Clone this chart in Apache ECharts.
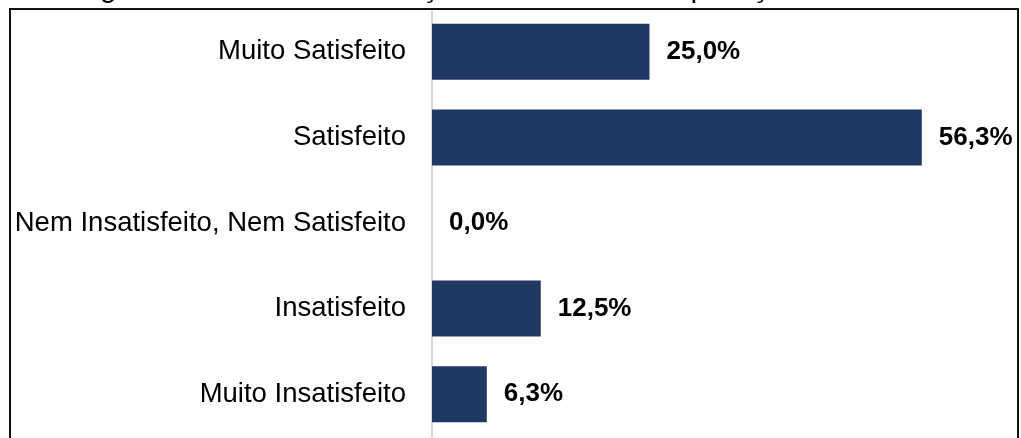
<!DOCTYPE html>
<html>
<head>
<meta charset="utf-8">
<script src="https://cdn.jsdelivr.net/npm/echarts@6/dist/echarts.min.js"></script>
<style>html,body{margin:0;padding:0;background:#fff}#c{width:1021px;height:438px}</style>
</head>
<body>
<div id="c"></div>
<script>
const categories = ['Muito Satisfeito', 'Satisfeito', 'Nem Insatisfeito, Nem Satisfeito', 'Insatisfeito', 'Muito Insatisfeito'];
const values = [25.0, 56.3, 0.0, 12.5, 6.3];
const titleText = 'Figura 9 – Grau de satisfação dos alunos na aplicação';

const FONT = 'Arial, "Liberation Sans", sans-serif';
const chart = echarts.init(document.getElementById('c'), null, {renderer: 'canvas'});
chart.setOption({
  animation: false,
  backgroundColor: '#ffffff',
  grid: {left: 432, top: 9, width: 522, height: 428, containLabel: false},
  xAxis: {
    type: 'value', min: 0, max: 60, show: false
  },
  yAxis: {
    type: 'category', data: categories, inverse: true,
    axisLine: {show: true, lineStyle: {color: '#d6d6d6', width: 2}},
    axisTick: {show: false},
    axisLabel: {color: '#000', fontSize: 27.5, fontFamily: FONT, margin: 26}
  },
  series: [{
    type: 'bar', data: values, barWidth: 56,
    itemStyle: {color: '#203864'},
    label: {
      show: true, position: 'right', distance: 17,
      color: '#000', fontSize: 26, fontWeight: 'bold', fontFamily: FONT,
      formatter: p => p.value.toFixed(1).replace('.', ',') + '%'
    }
  }],
  graphic: [
    {type: 'rect', shape: {x: 10, y: 9, width: 1008, height: 450},
     style: {fill: 'none', stroke: '#111', lineWidth: 2}, z: 100},
    {type: 'text', x: 75, y: -11.5,
     style: {text: titleText, fontSize: 30, fontFamily: FONT, fill: '#000', verticalAlign: 'middle'}, z: 100}
  ]
});
</script>
</body>
</html>
